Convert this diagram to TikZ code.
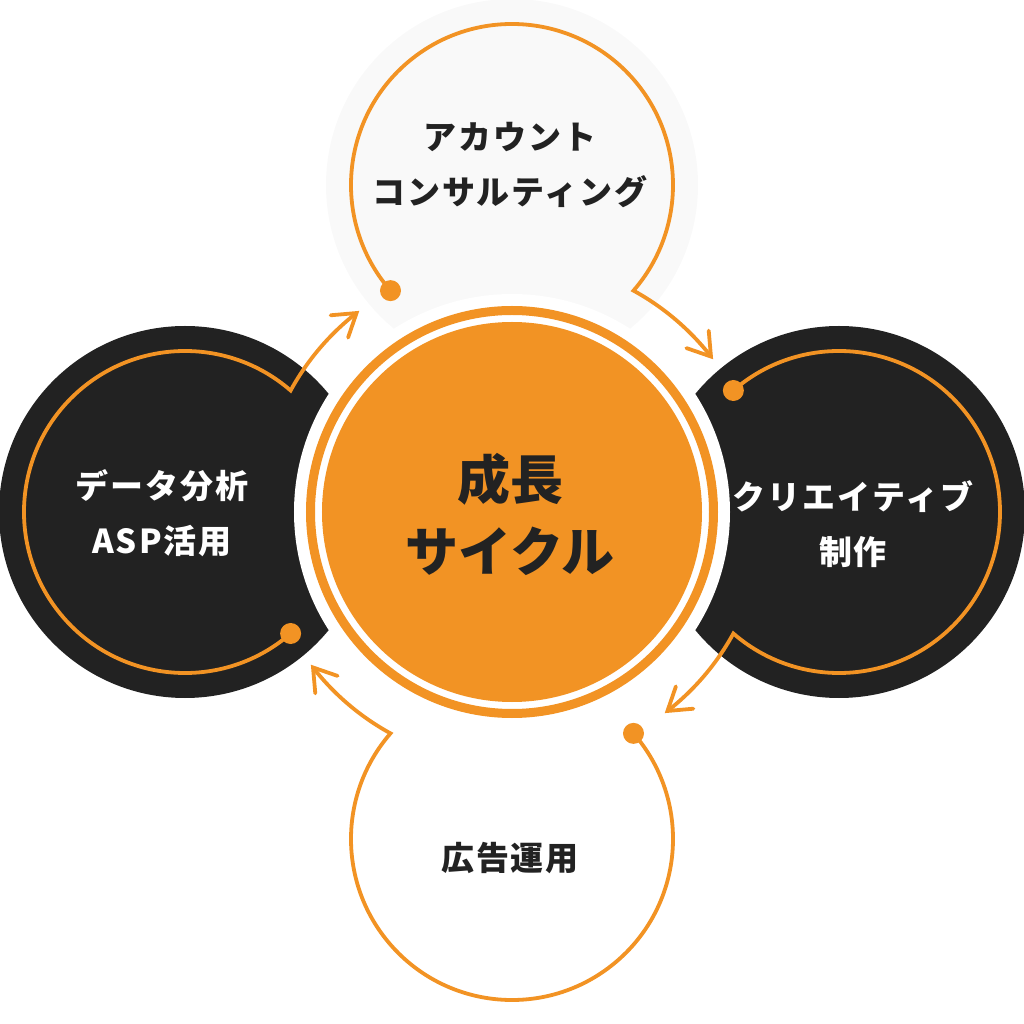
\documentclass[tikz,border=0pt]{standalone}
\usepackage{fontspec}
\usetikzlibrary{calc}
\newfontfamily\jp{Noto Sans CJK JP}
\newfontfamily\jpsp{Noto Sans CJK JP}[LetterSpace=6]
\definecolor{org}{HTML}{F29324}
\definecolor{blk}{HTML}{222222}
\definecolor{lgrey}{HTML}{F9F9F9}
\begin{document}
\begin{tikzpicture}[x=1pt,y=1pt,
  cyc/.style={draw=org,line width=3.8pt,line cap=round,line join=miter},
  dotst/.style={fill=org},
  labdark/.style={font=\jpsp\bfseries\fontsize{33}{55}\selectfont,text=blk,align=center,inner sep=0pt},
  lablight/.style={font=\jpsp\bfseries\fontsize{33}{55}\selectfont,text=white,align=center,inner sep=0pt},
  labcenter/.style={font=\jp\bfseries\fontsize{53}{72}\selectfont,text=blk,align=center,inner sep=0pt}]
\useasboundingbox (-512,-512) rectangle (512,512);
\coordinate (C) at (0,0);
% satellite backgrounds
\fill[lgrey] (0,327) circle (186);
\fill[blk] (327,0) circle (186);
\fill[white] (0,-327) circle (186);
\fill[blk] (-327,0) circle (186);
% white cut around centre
\fill[white] (C) circle (218);
% centre
\draw[org,line width=9pt] (C) circle (201.5);
\fill[org] (C) circle (190);
% cycle arcs (one per satellite, rotated)
\foreach \r/\nm in {0/top,-90/right,-180/bottom,-270/left}{
  \begin{scope}[rotate around={\r:(C)}]
    \coordinate (S-\nm) at (0,327);
    \coordinate (D-\nm) at ($(0,327)+(221:161)$);
    \coordinate (T-\nm) at (38:252.5);
    \draw[cyc] (D-\nm) arc[start angle=221,end angle=-41,radius=161]
      arc[start angle=61.24,end angle=38,radius=252.5];
    \draw[cyc] ($(T-\nm)+(161:26)$) -- (T-\nm) -- ($(T-\nm)+(95:26)$);
    \fill[dotst] (D-\nm) circle (10.5);
  \end{scope}
}
% labels
\node[labdark] (ltop) at (-2,347) {アカウント\\コンサルティング};
\node[lablight] (lright) at (341,-12) {クリエイティブ\\制作};
\node[labdark] (lbottom) at (-2,-346) {広告運用};
\node[lablight] (lleft) at (-350,-1) {データ分析\\ASP活用};
\node[labcenter] (lcenter) at (-2,-2) {成長\\サイクル};
\end{tikzpicture}
\end{document}
